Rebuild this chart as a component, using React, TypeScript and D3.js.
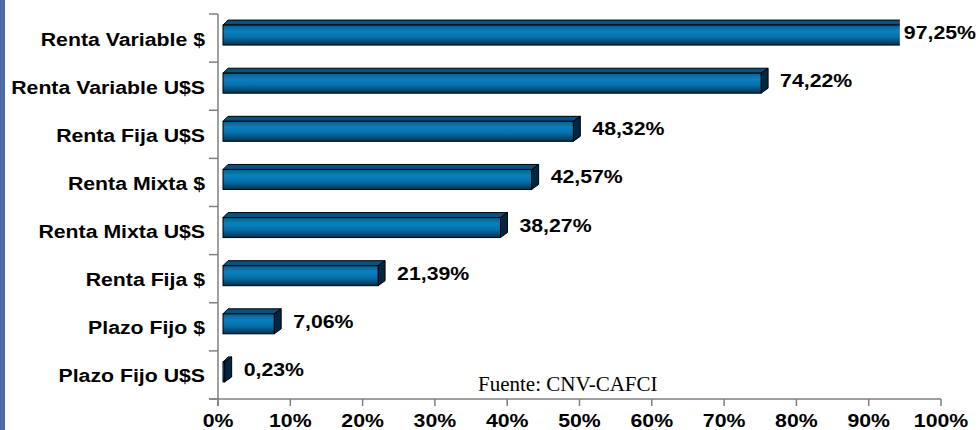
import React from "react";
import * as d3 from "d3";

const categories = [
  "Renta Variable $",
  "Renta Variable U$S",
  "Renta Fija U$S",
  "Renta Mixta $",
  "Renta Mixta U$S",
  "Renta Fija $",
  "Plazo Fijo $",
  "Plazo Fijo U$S",
];
const values = [97.25, 74.22, 48.32, 42.57, 38.27, 21.39, 7.06, 0.23];
const xTicks = [0, 10, 20, 30, 40, 50, 60, 70, 80, 90, 100];
const sourceNote = "Fuente: CNV-CAFCI";

const W = 980;
const H = 430;
const FONT = "'Liberation Sans', Arial, Helvetica, sans-serif";
const FS = 18.5;
const SX = 1.15;

const fmtPct = (v: number) => d3.format(".2f")(v).replace(".", ",") + "%";

let ctx: CanvasRenderingContext2D | null = null;
function measure(t: string) {
  if (!ctx) {
    const c = document.createElement("canvas");
    ctx = c.getContext("2d");
  }
  if (!ctx) return t.length * 11;
  ctx.font = `bold ${FS}px 'Liberation Sans'`;
  return ctx.measureText(t).width * SX;
}

export default function App() {
  const x = d3.scaleLinear().domain([0, 100]).range([218, 941]);
  const xb = d3.scaleLinear().domain([0, 100]).range([223, 948]);
  const y = d3.scaleBand().domain(categories).range([14, 399]);
  const bw = y.bandwidth();
  const yBounds = categories.map((c) => y(c) as number).concat([399]);

  const axisColor = "#808080";

  return (
    <svg
      width={W}
      height={H}
      style={{ position: "absolute", left: 0, top: 0, background: "#fff" }}
    >
      <defs>
        <linearGradient id="front" x1="0" y1="0" x2="0" y2="1">
          <stop offset="0%" stopColor="#0a5c8e" />
          <stop offset="30%" stopColor="#0a80c0" />
          <stop offset="60%" stopColor="#0670aa" />
          <stop offset="100%" stopColor="#023252" />
        </linearGradient>
      </defs>
      <rect x={0} y={0} width={W} height={H} fill="#fff" />
      <rect x={0} y={0} width={5} height={H} fill="#4b6ca6" />

      {/* axes */}
      <line x1={218} x2={218} y1={14} y2={406} stroke={axisColor} strokeWidth={1.5} />
      <line x1={209} x2={941} y1={399} y2={399} stroke={axisColor} strokeWidth={1.5} />
      {yBounds.map((b, i) => (
        <line key={"yt" + i} x1={209} x2={218} y1={b} y2={b} stroke={axisColor} strokeWidth={1.5} />
      ))}
      {xTicks.map((t) => (
        <line key={"xt" + t} x1={x(t)} x2={x(t)} y1={399} y2={406} stroke={axisColor} strokeWidth={1.5} />
      ))}

      {/* bars */}
      {categories.map((c, i) => {
        const v = values[i];
        const yc = (y(c) as number) + bw / 2;
        const fl = xb(0);
        const fr = xb(v);
        const ft = yc - 13;
        const fb = yc + 7;
        const top = `${fl},${ft} ${fr},${ft} ${fr + 7},${ft - 5} ${fl + 5},${ft - 5}`;
        const side = `${fr},${ft} ${fr + 7},${ft - 5} ${fr + 7},${fb - 5} ${fr},${fb}`;
        return (
          <g key={"b" + i}>
            <polygon points={top} fill="#0b4f7c" stroke="#000" strokeWidth={1} strokeLinejoin="round" />
            <polygon points={side} fill="#02263f" stroke="#000" strokeWidth={1} strokeLinejoin="round" />
            <rect x={fl} y={ft} width={fr - fl} height={fb - ft} fill="url(#front)" stroke="#000" strokeWidth={1} />
          </g>
        );
      })}

      {/* value labels */}
      {categories.map((c, i) => {
        const v = values[i];
        const yc = (y(c) as number) + bw / 2;
        const label = fmtPct(v);
        const w = measure(label);
        let left = xb(v) + 19;
        if (left + w > W - 4) left = W - 4 - w;
        return (
          <g key={"l" + i}>
            <rect x={left - 4} y={yc - 20} width={w + 8} height={30} fill="#fff" />
            <text
              transform={`translate(${left},${yc + 1}) scale(${SX},1)`}
              fontFamily={FONT}
              fontWeight="bold"
              fontSize={FS}
              fill="#000"
            >
              {label}
            </text>
          </g>
        );
      })}

      {/* category labels */}
      {categories.map((c) => {
        const yc = (y(c) as number) + bw / 2;
        return (
          <text
            key={"c" + c}
            transform={`translate(205,${yc + 7.5}) scale(${SX},1)`}
            textAnchor="end"
            fontFamily={FONT}
            fontWeight="bold"
            fontSize={FS}
            fill="#000"
          >
            {c}
          </text>
        );
      })}

      {/* x tick labels */}
      {xTicks.map((t) => (
        <text
          key={"xl" + t}
          transform={`translate(${x(t)},427) scale(${SX},1)`}
          textAnchor="middle"
          fontFamily={FONT}
          fontWeight="bold"
          fontSize={FS}
          fill="#000"
        >
          {t + "%"}
        </text>
      ))}

      <text
        x={478}
        y={391}
        fontFamily="'Liberation Serif', 'Times New Roman', serif"
        fontSize={21}
        fill="#000"
      >
        {sourceNote}
      </text>
    </svg>
  );
}
